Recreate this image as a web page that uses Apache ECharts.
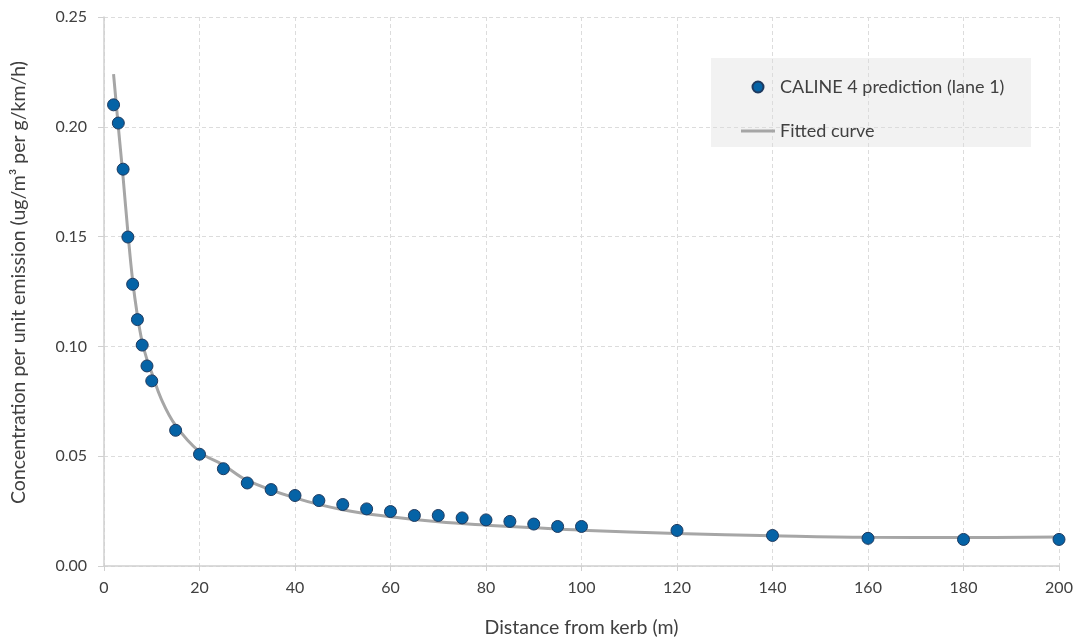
<html>
<head>
    <meta http-equiv="Content-Type" content="text/html; charset=utf-8" />
</head>
<script type="text/javascript" src="https://cdn.jsdelivr.net/npm/echarts@6/dist/echarts.min.js"></script>
<body style="margin:0">
<div id="main" style="width: 1079px;height:643px;"></div>
</body>
<script type="text/javascript">
    // CALINE 4 prediction points
    var distance = [2, 3, 4, 5, 6, 7, 8, 9, 10, 15, 20, 25, 30, 35, 40, 45, 50, 55, 60, 65, 70, 75, 80, 85, 90, 95, 100, 120, 140, 160, 180, 200];
    var concentration = [0.210, 0.2017, 0.1807, 0.1498, 0.1283, 0.1122, 0.1006, 0.0911, 0.0843, 0.0618, 0.0509, 0.0443, 0.0378, 0.0348, 0.0321, 0.0298, 0.0280, 0.0260, 0.0248, 0.0230, 0.0230, 0.0219, 0.0210, 0.0203, 0.0191, 0.0180, 0.0180, 0.0162, 0.0139, 0.0126, 0.0121, 0.0121];

    // fitted curve
    var fitX = [2, 3, 4, 5, 6, 7, 8, 9, 10, 12, 15, 20, 25, 30, 40, 50, 60, 70, 80, 90, 100, 120, 140, 160, 180, 200];
    var fitY = [0.224, 0.200, 0.177, 0.152, 0.130, 0.114, 0.102, 0.094, 0.088, 0.076, 0.064, 0.052, 0.046, 0.039, 0.031, 0.0256, 0.0224, 0.0201, 0.0186, 0.0174, 0.0163, 0.0148, 0.0138, 0.0131, 0.0130, 0.0132];

    var xTicks = [0, 20, 40, 60, 80, 100, 120, 140, 160, 180, 200];
    var yTicks = [0, 0.05, 0.10, 0.15, 0.20, 0.25];

    function pairs(xs, ys) {
        var out = [];
        for (var i = 0; i < xs.length; i++) {
            out.push([xs[i], ys[i]]);
        }
        return out;
    }

    var textColor = '#404040';
    var font = 'Lato';

    var myChart = echarts.init(document.getElementById('main'));
    var option = {
        animation: false,
        backgroundColor: '#ffffff',
        textStyle: { fontFamily: font, color: textColor },
        grid: { left: 104, right: 20, top: 17, bottom: 75 },
        // legend background box
        graphic: [{
            type: 'rect',
            left: 711, top: 58,
            shape: { width: 320, height: 89 },
            style: { fill: '#f2f2f2' },
            z: 0
        }],
        legend: {
            orient: 'vertical',
            left: 736, top: 73,
            itemWidth: 34, itemHeight: 11,
            itemGap: 26,
            textStyle: { fontFamily: font, fontSize: 18, color: textColor, lineHeight: 18 },
            data: [
                { name: 'CALINE 4 prediction (lane 1)', icon: 'circle' },
                { name: 'Fitted curve', icon: 'path://M0,0L34,0L34,3L0,3Z' }
            ]
        },
        xAxis: {
            type: 'value',
            min: xTicks[0], max: xTicks[xTicks.length - 1], interval: 20,
            name: 'Distance from kerb (m)',
            nameLocation: 'middle', nameGap: 52,
            nameTextStyle: { fontSize: 19.5, color: textColor, fontFamily: font },
            axisLine: { lineStyle: { color: '#d0d0d0', width: 1.5 } },
            axisTick: { show: true, length: 5, lineStyle: { color: '#d0d0d0' } },
            axisLabel: { fontSize: 16, color: textColor, margin: 14 },
            splitLine: { show: true, lineStyle: { color: '#dcdcdc', type: [4, 3] } }
        },
        yAxis: {
            type: 'value',
            min: yTicks[0], max: yTicks[yTicks.length - 1], interval: 0.05,
            name: 'Concentration per unit emission (ug/m³ per g/km/h)',
            nameLocation: 'middle', nameGap: 75,
            nameTextStyle: { fontSize: 19.5, color: textColor, fontFamily: font, padding: [0, 0, 0, 18] },
            axisLine: { show: true, lineStyle: { color: '#d0d0d0', width: 1.5 } },
            axisTick: { show: true, length: 6, lineStyle: { color: '#d0d0d0' } },
            axisLabel: { fontSize: 16, color: textColor, margin: 17,
                formatter: function (v) { return v.toFixed(2); } },
            splitLine: { show: true, lineStyle: { color: '#dcdcdc', type: [4, 3] } }
        },
        series: [
            {
                name: 'Fitted curve',
                type: 'line',
                data: pairs(fitX, fitY),
                smooth: 0.4,
                showSymbol: false,
                symbol: 'none',
                lineStyle: { color: '#a6a6a6', width: 3 },
                itemStyle: { color: '#a6a6a6' },
                z: 2
            },
            {
                name: 'CALINE 4 prediction (lane 1)',
                type: 'scatter',
                data: pairs(distance, concentration),
                symbol: 'circle',
                symbolSize: 12,
                itemStyle: { color: '#0563a6', borderColor: '#1f3a5f', borderWidth: 1, opacity: 1 },
                z: 3
            }
        ]
    };
    myChart.setOption(option);
</script>
</html>
